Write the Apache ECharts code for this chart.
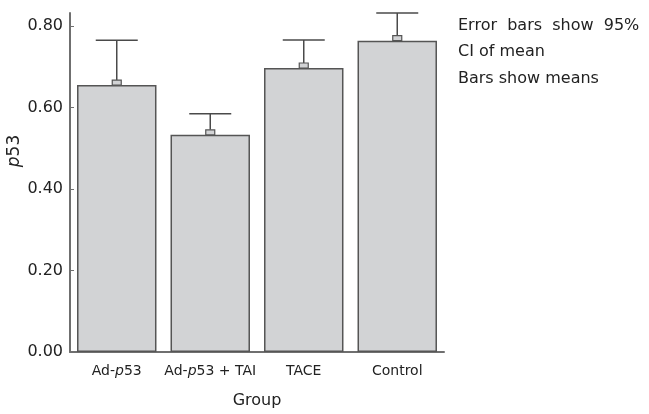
<!DOCTYPE html>
<html>
<head>
<meta charset="utf-8">
<script src="https://cdn.jsdelivr.net/npm/echarts@6/dist/echarts.min.js"></script>
<style>
  html, body { margin: 0; padding: 0; background: #fff; }
  #main { width: 649px; height: 414px; }
</style>
</head>
<body>
<div id="main"></div>
<script>
// p53 by group, bars = means, whiskers = upper 95% CI
const categories = ['Ad-p53', 'Ad-p53 + TAI', 'TACE', 'Control'];
const means = [0.655, 0.533, 0.697, 0.764];
const upperCI = [0.765, 0.585, 0.766, 0.832];
const yTicks = [0, 0.2, 0.4, 0.6, 0.8];
const noteLines = ['Error  bars  show  95%', 'CI of mean', 'Bars show means'];

const font = 'DejaVu Sans';
const axisGray = '#6f6f6f';
const lineDark = '#4a4a4a';

const chart = echarts.init(document.getElementById('main'));

const errData = categories.map((c, i) => [i, means[i], upperCI[i]]);

const option = {
  animation: false,
  backgroundColor: '#fff',
  grid: { left: 70, right: 205, top: 13, bottom: 58 },
  xAxis: {
    type: 'category',
    data: categories,
    axisLine: { lineStyle: { color: axisGray, width: 2 } },
    axisTick: { alignWithLabel: true, inside: true, length: 5, lineStyle: { color: lineDark } },
    axisLabel: {
      interval: 0,
      margin: 12,
      color: '#222',
      fontFamily: font,
      fontSize: 14,
      formatter: v => v.replace('p53', '{i|p}53'),
      rich: { i: { fontStyle: 'italic', fontFamily: font, fontSize: 14, color: '#222' } }
    },
    name: 'Group',
    nameLocation: 'middle',
    nameGap: 41,
    nameTextStyle: { fontFamily: font, fontSize: 16, color: '#222' }
  },
  yAxis: {
    type: 'value',
    min: 0,
    max: 0.832,
    axisLine: { show: true, lineStyle: { color: axisGray, width: 2 } },
    axisTick: { show: true, inside: true, length: 4, customValues: yTicks, lineStyle: { color: axisGray } },
    axisLabel: {
      customValues: yTicks,
      margin: 7,
      color: '#222',
      fontFamily: font,
      fontSize: 16,
      formatter: v => v.toFixed(2)
    },
    splitLine: { show: false }
  },
  graphic: [
    {
      type: 'text',
      x: 15,
      y: 151,
      rotation: Math.PI / 2,
      style: {
        text: '{i|p}53',
        fontFamily: font,
        fontSize: 17,
        fill: '#222',
        align: 'center',
        verticalAlign: 'middle',
        rich: { i: { fontStyle: 'italic', fontFamily: font, fontSize: 17, fill: '#222' } }
      }
    },
    {
      type: 'text',
      left: 458,
      top: 12,
      style: {
        text: noteLines.join('\n'),
        fontFamily: font,
        fontSize: 16,
        lineHeight: 26.7,
        fill: '#222'
      }
    }
  ],
  series: [
    {
      type: 'bar',
      data: means,
      barWidth: '85%',
      itemStyle: { color: '#d2d3d5', borderColor: '#555', borderWidth: 1.5 }
    },
    {
      type: 'custom',
      data: errData,
      z: 5,
      renderItem: (params, api) => {
        const idx = api.value(0);
        const mean = api.coord([idx, api.value(1)]);
        const top = api.coord([idx, api.value(2)]);
        const capHalf = 21;
        const style = { stroke: lineDark, lineWidth: 1.5 };
        return {
          type: 'group',
          children: [
            { type: 'line', shape: { x1: top[0], y1: top[1], x2: mean[0], y2: mean[1] - 5 }, style },
            { type: 'line', shape: { x1: top[0] - capHalf, y1: top[1], x2: top[0] + capHalf, y2: top[1] }, style },
            {
              type: 'rect',
              shape: { x: mean[0] - 4.5, y: mean[1] - 5, width: 9, height: 5 },
              style: { fill: '#d2d3d5', stroke: '#555', lineWidth: 1.2 }
            }
          ]
        };
      }
    }
  ]
};

chart.setOption(option);
</script>
</body>
</html>
